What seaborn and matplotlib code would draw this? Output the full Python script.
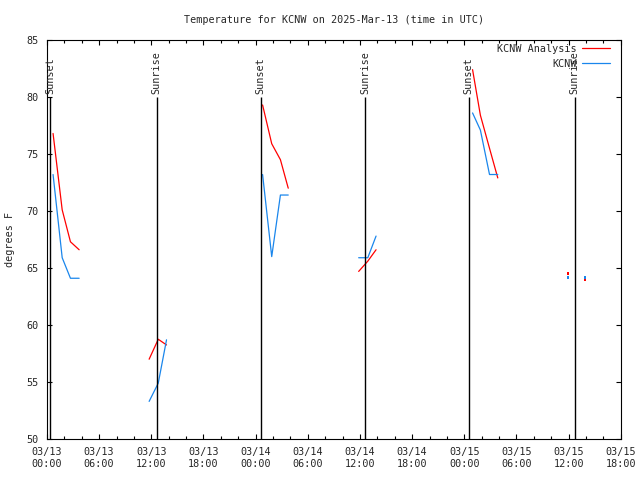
import pandas as pd
import numpy as np
import seaborn as sns
import matplotlib.pyplot as plt
import matplotlib.dates as mdates
from matplotlib.lines import Line2D

# hours after 2025-03-13 00:00 UTC, one list per plotted segment
seg_hours = [
    [0.7, 1.75, 2.7, 3.7],
    [11.75, 12.8, 13.75],
    [24.8, 25.85, 26.85, 27.75],
    [35.85, 36.9, 37.85],
    [48.95, 49.85, 50.9, 51.85],
    [59.95],
    [61.9],
]
analysis_temps = [
    [76.8, 70.1, 67.3, 66.6],
    [57.0, 58.75, 58.25],
    [79.3, 75.9, 74.5, 72.0],
    [64.7, 65.6, 66.6],
    [82.4, 78.4, 75.5, 72.9],
    [64.5],
    [64.0],
]
obs_temps = [
    [73.2, 65.9, 64.1, 64.1],
    [53.3, 54.9, 58.7],
    [73.2, 66.0, 71.4, 71.4],
    [65.9, 65.9, 67.8],
    [78.6, 77.1, 73.2, 73.2],
    [64.15],
    [64.15],
]
event_hours = [0.35, 12.6, 24.6, 36.6, 48.5, 60.7]
event_labels = ["Sunset", "Sunrise", "Sunset", "Sunrise", "Sunset", "Sunrise"]

base = pd.Timestamp("2025-03-13 00:00")
rows = []
for i, hrs in enumerate(seg_hours):
    for h, a, o in zip(hrs, analysis_temps[i], obs_temps[i]):
        t = base + pd.to_timedelta(h, unit="h")
        rows.append((t, a, "KCNW Analysis", i))
        rows.append((t, o, "KCNW", i))
df = pd.DataFrame(rows, columns=["time", "temp", "series", "seg"])

colors = {"KCNW Analysis": "#ff0000", "KCNW": "#1a86ec"}

sns.set_style("ticks")
plt.rcParams["font.family"] = ["DejaVu Sans Mono"]
plt.rcParams["font.size"] = 7.3

fig = plt.figure(figsize=(6.4, 4.8), dpi=100)
ax = fig.add_axes([0.0734, 0.0854, 0.8966, 0.8313])

sns.lineplot(data=df, x="time", y="temp", hue="series", units="seg",
             estimator=None, palette=colors, linewidth=0.9, legend=False, ax=ax)
# lone readings show as single dots
counts = df.groupby(["seg", "series"])["temp"].transform("count")
single = df[counts == 1]
sns.scatterplot(data=single, x="time", y="temp", hue="series", palette=colors,
                marker="s", s=3, linewidth=0, legend=False, ax=ax)

for h, lab in zip(event_hours, event_labels):
    t = base + pd.to_timedelta(h, unit="h")
    ax.vlines(t, 50, 80, color="black", linewidth=1.0)
    ax.text(t, 80.3, lab, rotation=90, ha="center", va="bottom", fontsize=7.3)

ax.set_xlim(base, base + pd.Timedelta(hours=66))
ax.set_ylim(50, 85)
ax.set_yticks(np.arange(50, 86, 5))
ax.xaxis.set_major_locator(mdates.HourLocator(byhour=[0, 6, 12, 18]))
ax.xaxis.set_minor_locator(mdates.HourLocator(interval=2))
ax.xaxis.set_major_formatter(mdates.DateFormatter("%m/%d\n%H:%M"))
ax.tick_params(which="both", direction="in", top=True, right=True,
               width=0.8, color="black", labelsize=7.3)
ax.tick_params(which="major", length=3.5, pad=6)
ax.tick_params(which="minor", length=2.5)
for s in ax.spines.values():
    s.set_color("black")
    s.set_linewidth(0.8)

ax.set_xlabel("")
ax.set_ylabel("degrees F", fontsize=7.3, labelpad=8)
ax.set_title("Temperature for KCNW on 2025-Mar-13 (time in UTC)",
             fontsize=7.3, pad=12)

handles = [Line2D([], [], color=colors[k], linewidth=0.9) for k in colors]
ax.legend(handles, list(colors), loc="upper right", bbox_to_anchor=(0.988, 1.0),
          frameon=False, markerfirst=False, handlelength=2.7, handletextpad=0.6,
          labelspacing=0.45, borderaxespad=0.0, fontsize=7.3)

fig.savefig("out.png", dpi=100)
